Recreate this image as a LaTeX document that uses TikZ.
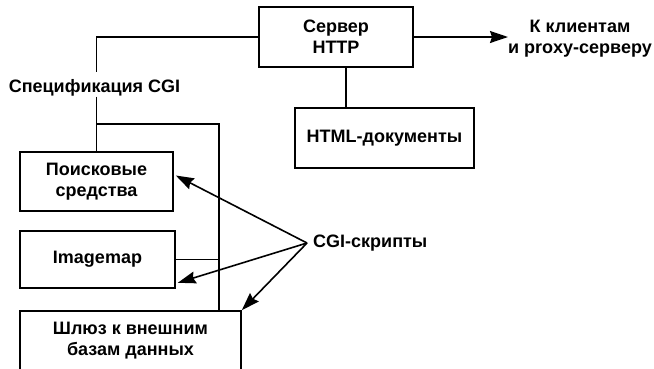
\documentclass[tikz,border=0pt]{standalone}
\usepackage{fontspec}
\setmainfont{Liberation Sans}
\usetikzlibrary{arrows.meta,calc}

\tikzset{
  box/.style={draw, line width=1.6pt, align=center, inner sep=0pt},
  lbl/.style={align=center, inner sep=0pt},
  link/.style={line width=1.6pt},
  ptr/.style={line width=1.6pt, -{Stealth[length=18pt,width=12pt,inset=2pt]}}
}

\begin{document}
\begin{tikzpicture}[x=1pt, y=-1pt, font=\bfseries\fontsize{18}{21}\selectfont]
    \useasboundingbox (0,0) rectangle (654,368);

    % Server and documents
    \node[box, minimum width=154, minimum height=60] (srv) at (336,37) {Сервер\\HTTP};
    \node[box, minimum width=179, minimum height=60] (html) at (384.5,138) {HTML-документы};
    \coordinate (out) at (508,37);
    \coordinate (drop) at (346,67);
    \node[lbl] (clients) at (580,39) {К клиентам\\и proxy-серверу};

    % CGI side
    \node[lbl] (spec) at (94.5,88) {Спецификация CGI};
    \node[box, minimum width=153, minimum height=59] (poisk) at (96.5,181.5) {Поисковые\\средства};
    \node[box, minimum width=155, minimum height=57] (img) at (97.5,259.5) {Imagemap};
    \node[box, minimum width=221, minimum height=60] (gate) at (130.5,341) {Шлюз к внешним\\базам данных};
    \node[lbl, anchor=west] (cgi) at (313,243) {CGI-скрипты};
    \coordinate (bus) at (219,124);
    \coordinate (fork) at (96.5,72);

    % Lines
    \draw[link] (srv.west) -| (fork);
    \draw[link] (fork |- spec.south) -- (poisk.north);
    \draw[link] (fork |- bus) -- (bus) -- (bus |- gate.north);
    \draw[link] (img.east) -- (img.east -| bus);
    \draw[link] (drop) -- (drop |- html.north);
    \draw[ptr] (srv.east) -- (out);

    % Arrows
    \draw[ptr] ($(cgi.west)+(-6,0)$) -- ($(poisk.east)+(2,-6)$);
    \draw[ptr] ($(cgi.west)+(-6,0)$) -- ($(img.south east)+(2,-6)$);
    \draw[ptr] ($(cgi.west)+(-6,0)$) -- (gate.north east);
\end{tikzpicture}
\end{document}
